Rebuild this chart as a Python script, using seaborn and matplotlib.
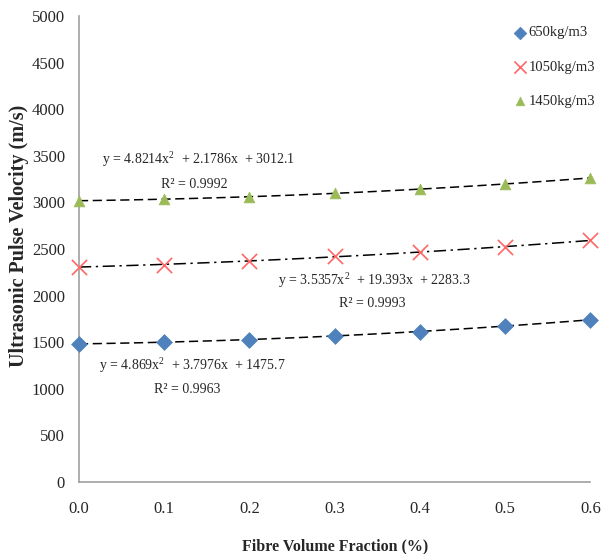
import numpy as np
import pandas as pd
import matplotlib
matplotlib.use("Agg")
import matplotlib.pyplot as plt
import seaborn as sns

# Fibre volume fraction (%) and measured pulse velocity (m/s) for each density
fraction = [0.0, 0.1, 0.2, 0.3, 0.4, 0.5, 0.6]
upv_650 = [1480, 1505, 1527, 1566, 1614, 1676, 1740]
upv_1050 = [2308, 2333, 2372, 2420, 2468, 2522, 2594]
upv_1450 = [3020, 3033, 3060, 3100, 3142, 3200, 3262]

series_names = ["650kg/m3", "1050kg/m3", "1450kg/m3"]
equations = [
    "y = 4.869x$^2$  + 3.7976x  + 1475.7",
    "y = 3.5357x$^2$  + 19.393x  + 2283.3",
    "y = 4.8214x$^2$  + 2.1786x  + 3012.1",
]
r_squared = ["R² = 0.9963", "R² = 0.9993", "R² = 0.9992"]

sns.set_theme(style="white")
plt.rcParams["font.family"] = ["Liberation Serif", "DejaVu Serif"]
plt.rcParams["mathtext.fontset"] = "custom"
plt.rcParams["mathtext.rm"] = "Liberation Serif"

fig = plt.figure(figsize=(6.03, 5.54), dpi=100)
ax = fig.add_axes([0.131, 0.130, 0.848, 0.841])

styles = [
    dict(color="#4F81BD", marker="D", s=65, ls=(0, (6, 3))),
    dict(color="#FF6666", marker="x", s=120, ls=(0, (8, 3, 1.5, 3))),
    dict(color="#9BBB59", marker="^", s=60, ls=(0, (6, 3))),
]
values = [upv_650, upv_1050, upv_1450]

for name, vals, st in zip(series_names, values, styles):
    df = pd.DataFrame({"x": fraction, "y": vals})
    # second-order polynomial trendline through the points
    sns.regplot(data=df, x="x", y="y", order=2, ci=None, scatter=False,
                truncate=True, ax=ax,
                line_kws=dict(color="black", lw=1.1, ls=st["ls"]))
    kw = dict(color=st["color"], marker=st["marker"], s=st["s"],
              edgecolor=st["color"] if st["marker"] != "x" else None,
              linewidth=1.2 if st["marker"] == "x" else 0.5,
              label=name, zorder=5, clip_on=False)
    sns.scatterplot(data=df, x="x", y="y", ax=ax, **kw)

# equation labels
eq_pos = [(0.024, 1255, 0.088, 990), (0.234, 2167, 0.305, 1920), (0.027, 3460, 0.096, 3190)]
for eq, r2, (ex, ey, rx, ry) in zip(equations, r_squared, eq_pos):
    ax.text(ex, ey, eq, fontsize=10, ha="left", va="center")
    ax.text(rx, ry, r2, fontsize=10, ha="left", va="center")

ax.set_xlim(0, 0.6)
ax.set_ylim(0, 5000)
ax.set_xticks(fraction)
ax.set_xticklabels([f"{v:.1f}" for v in fraction])
ax.set_yticks(np.arange(0, 5001, 500))
ax.tick_params(axis="both", length=0, labelsize=12)
ax.tick_params(axis="x", pad=14)
ax.tick_params(axis="y", pad=10)

for side in ["top", "right"]:
    ax.spines[side].set_visible(False)
for side in ["left", "bottom"]:
    ax.spines[side].set_color("#A0A0A0")
    ax.spines[side].set_linewidth(1.2)

ax.set_xlabel("Fibre Volume Fraction (%)", fontsize=11.5, fontweight="bold", labelpad=15)
ax.set_ylabel("Ultrasonic Pulse Velocity (m/s)", fontsize=14.5, fontweight="bold")
ax.yaxis.set_label_coords(-0.097, 0.528)

leg = ax.legend(loc="upper right", bbox_to_anchor=(1.03, 1.0), frameon=False,
                fontsize=10.5, handletextpad=0.0, handlelength=1.2,
                labelspacing=1.45, markerscale=0.8, borderaxespad=0.3)

fig.savefig("out.png", dpi=100)
